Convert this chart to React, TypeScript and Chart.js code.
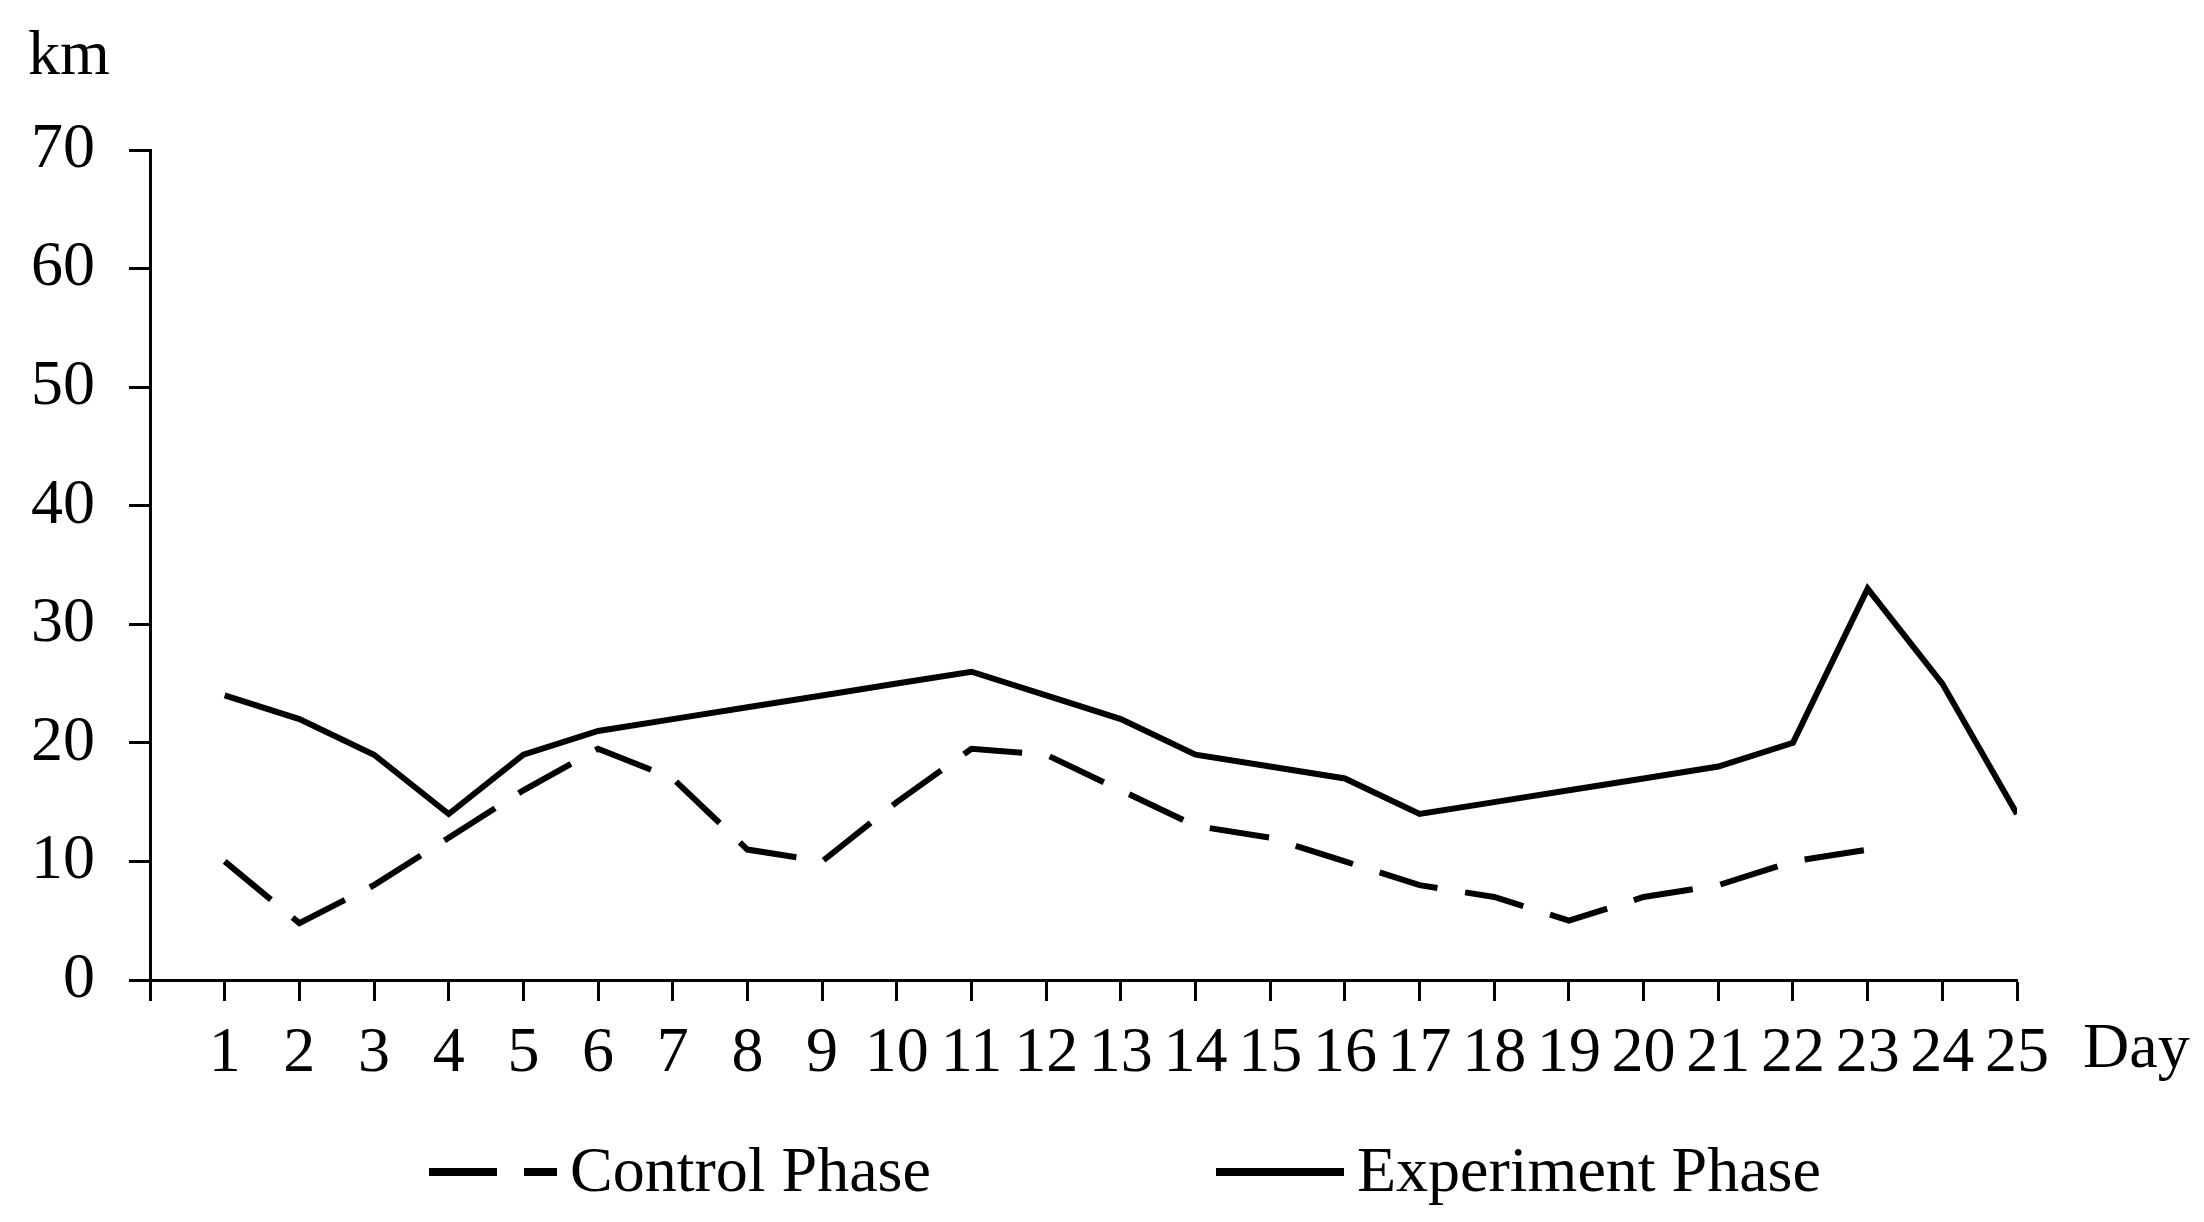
import React, { useEffect, useRef } from "react";
import { Chart, registerables } from "chart.js";

Chart.register(...registerables);

const days = [1, 2, 3, 4, 5, 6, 7, 8, 9, 10, 11, 12, 13, 14, 15, 16, 17, 18, 19, 20, 21, 22, 23, 24, 25];
const controlPhase = [10, 4.8, 8, 12, 16, 19.5, 17, 11, 10, 15, 19.5, 19, 16, 13, 12, 10, 8, 7, 5, 7, 8, 10, 11, null, null];
const experimentPhase = [24, 22, 19, 14, 19, 21, 22, 23, 24, 25, 26, 24, 22, 19, 18, 17, 14, 15, 16, 17, 18, 20, 33, 25, 14];
const seriesNames = ["Control Phase", "Experiment Phase"];
const yTicks = [0, 10, 20, 30, 40, 50, 60, 70];
const yUnit = "km";
const xUnit = "Day";

const FONT = '"Liberation Serif", "Times New Roman", serif';
const FS = 64;

const overlayPlugin = {
  id: "overlay",
  afterDraw(chart: any) {
    const ctx = chart.ctx;
    ctx.save();
    ctx.fillStyle = "#000";
    ctx.font = `${FS}px ${FONT}`;
    ctx.textAlign = "left";
    ctx.textBaseline = "alphabetic";
    ctx.fillText(yUnit, 28, 74);
    ctx.fillText(xUnit, 2083, 1067);

    // legend
    ctx.strokeStyle = "#000";
    ctx.lineWidth = 8;
    ctx.lineCap = "butt";
    ctx.setLineDash([68, 27]);
    ctx.beginPath();
    ctx.moveTo(429, 1172);
    ctx.lineTo(557, 1172);
    ctx.stroke();
    ctx.setLineDash([]);
    ctx.beginPath();
    ctx.moveTo(1216, 1172);
    ctx.lineTo(1344, 1172);
    ctx.stroke();
    ctx.fillText(seriesNames[0], 570, 1191);
    ctx.fillText(seriesNames[1], 1357, 1191);
    ctx.restore();
  },
};

export default function App() {
  const canvasRef = useRef<HTMLCanvasElement | null>(null);

  useEffect(() => {
    const canvas = canvasRef.current;
    if (!canvas) return;
    const chart = new Chart(canvas, {
      type: "line",
      data: {
        datasets: [
          {
            label: seriesNames[0],
            data: days.map((d, i) => ({ x: d, y: controlPhase[i] })),
            borderColor: "#000",
            borderWidth: 6,
            borderDash: [60, 28],
            pointRadius: 0,
            fill: false,
            tension: 0,
            spanGaps: false,
          },
          {
            label: seriesNames[1],
            data: days.map((d, i) => ({ x: d, y: experimentPhase[i] })),
            borderColor: "#000",
            borderWidth: 6,
            pointRadius: 0,
            fill: false,
            tension: 0,
          },
        ],
      },
      options: {
        animation: false,
        responsive: false,
        devicePixelRatio: 1,
        layout: { padding: { left: 0, right: 187, top: 150, bottom: 0 } },
        plugins: {
          legend: { display: false },
          tooltip: { enabled: false },
        },
        scales: {
          x: {
            type: "linear",
            min: 0,
            max: days[days.length - 1],
            afterFit: (scale: any) => {
              scale.height = 242;
            },
            afterBuildTicks: (scale: any) => {
              scale.ticks = [0, ...days].map((v) => ({ value: v }));
            },
            grid: {
              drawOnChartArea: false,
              drawTicks: true,
              tickLength: 21,
              tickWidth: 3,
              tickColor: "#000",
            },
            border: { display: true, color: "#000", width: 3 },
            ticks: {
              autoSkip: false,
              maxRotation: 0,
              minRotation: 0,
              padding: 15,
              color: "#000",
              font: { family: FONT, size: FS },
              callback: (v: any) => (v === 0 ? "" : String(v)),
            },
          },
          y: {
            min: yTicks[0],
            max: yTicks[yTicks.length - 1],
            afterFit: (scale: any) => {
              scale.width = 150;
            },
            afterBuildTicks: (scale: any) => {
              scale.ticks = yTicks.map((v) => ({ value: v }));
            },
            grid: {
              drawOnChartArea: false,
              drawTicks: true,
              tickLength: 21,
              tickWidth: 3,
              tickColor: "#000",
            },
            border: { display: true, color: "#000", width: 3 },
            ticks: {
              padding: 34,
              color: "#000",
              font: { family: FONT, size: FS },
            },
          },
        },
      },
      plugins: [overlayPlugin],
    });
    return () => chart.destroy();
  }, []);

  return (
    <div style={{ position: "absolute", left: 0, top: 0, width: 2204, height: 1222, background: "#fff" }}>
      <canvas ref={canvasRef} width={2204} height={1222} style={{ display: "block", width: 2204, height: 1222 }} />
    </div>
  );
}
